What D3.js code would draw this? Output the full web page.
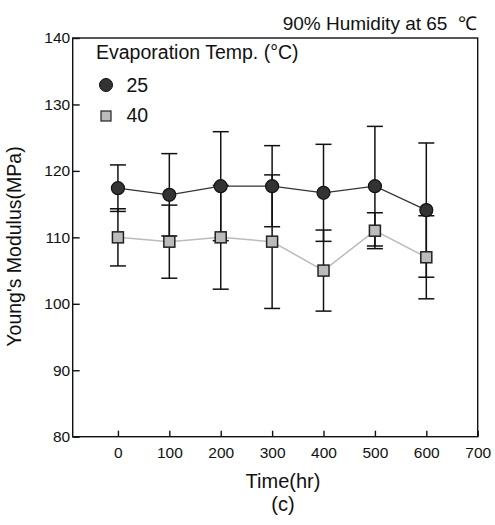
<!DOCTYPE html>
<html><head><meta charset="utf-8">
<script src="https://cdn.jsdelivr.net/npm/d3@7"></script>
<style>body{margin:0;background:#fff}svg{display:block}text{font-family:"Liberation Sans",Arial,sans-serif;fill:#111}</style>
</head><body>
<script>
const times = [0, 100, 200, 300, 400, 500, 600];
const mean25 = [117.4, 116.4, 117.7, 117.7, 116.7, 117.7, 114.1];
const err25  = [3.5, 6.2, 8.2, 6.1, 7.3, 9.0, 10.1];
const mean40 = [110.0, 109.35, 110.0, 109.35, 105.0, 111.0, 107.0];
const err40  = [4.3, 5.5, 7.8, 10.05, 6.1, 2.7, 6.25];
const xTicks = [0, 100, 200, 300, 400, 500, 600, 700];
const yTicks = [80, 90, 100, 110, 120, 130, 140];

const W = 495, H = 525;
const FONT = '"Liberation Sans",Arial,sans-serif';
const svg = d3.select("body").append("svg").attr("width", W).attr("height", H);
const x = d3.scaleLinear().domain([-88, 700]).range([72.7, 477.7]);
const y = d3.scaleLinear().domain([80, 140]).range([436.7, 38]);

// axes
const gx = svg.append("g").attr("transform", `translate(0,${y(80)})`)
  .call(d3.axisBottom(x).tickValues(xTicks).tickSizeInner(-6).tickSizeOuter(0).tickPadding(10));
const gy = svg.append("g").attr("transform", `translate(${x(-88)},0)`)
  .call(d3.axisLeft(y).tickValues(yTicks).tickSizeInner(-7).tickSizeOuter(0).tickPadding(2.5));
[gx, gy].forEach(g => {
  g.select(".domain").remove();
  g.selectAll("line").attr("stroke", "#111").attr("stroke-width", 1.4);
  g.selectAll("text").style("font-size", "15.5px").style("font-family", FONT).attr("fill", "#111");
});
// frame
svg.append("rect").attr("x", x(-88)).attr("y", y(140)).attr("width", x(700) - x(-88)).attr("height", y(80) - y(140))
  .attr("fill", "none").attr("stroke", "#111").attr("stroke-width", 1.4);

// lines
const line = d3.line().x(d => x(d[0])).y(d => y(d[1]));
svg.append("path").datum(times.map((t, i) => [t, mean25[i]])).attr("d", line)
  .attr("fill", "none").attr("stroke", "#333").attr("stroke-width", 1.2);
svg.append("path").datum(times.map((t, i) => [t, mean40[i]])).attr("d", line)
  .attr("fill", "none").attr("stroke", "#bbb").attr("stroke-width", 1.5);

// error bars
function errBars(means, errs) {
  const g = svg.append("g").attr("stroke", "#111").attr("stroke-width", 1.5);
  times.forEach((t, i) => {
    const cx = x(t), lo = y(means[i] - errs[i]), hi = y(means[i] + errs[i]);
    g.append("line").attr("x1", cx).attr("x2", cx).attr("y1", lo).attr("y2", hi);
    g.append("line").attr("x1", cx - 8).attr("x2", cx + 8).attr("y1", lo).attr("y2", lo);
    g.append("line").attr("x1", cx - 8).attr("x2", cx + 8).attr("y1", hi).attr("y2", hi);
  });
}
errBars(mean40, err40);
errBars(mean25, err25);

// markers
svg.append("g").selectAll("rect").data(times).join("rect")
  .attr("x", (t) => x(t) - 5.5).attr("y", (t, i) => y(mean40[i]) - 5.5)
  .attr("width", 11).attr("height", 11).attr("fill", "#bbb").attr("stroke", "#222").attr("stroke-width", 1.5);
svg.append("g").selectAll("circle").data(times).join("circle")
  .attr("cx", t => x(t)).attr("cy", (t, i) => y(mean25[i])).attr("r", 6.5)
  .attr("fill", "#333").attr("stroke", "#111").attr("stroke-width", 1.2);

// legend
svg.append("text").attr("x", 96).attr("y", 59).style("font-size", "19.5px").text("Evaporation Temp. (°C)");
svg.append("circle").attr("cx", 106).attr("cy", 85).attr("r", 6.5).attr("fill", "#333").attr("stroke", "#111");
svg.append("text").attr("x", 126.5).attr("y", 92).style("font-size", "19.5px").text("25");
svg.append("rect").attr("x", 101).attr("y", 111).attr("width", 10).attr("height", 10).attr("fill", "#bbb").attr("stroke", "#222").attr("stroke-width", 1.2);
svg.append("text").attr("x", 126.5).attr("y", 122).style("font-size", "19.5px").text("40");

// titles
svg.append("text").attr("x", 477).attr("y", 29.5).attr("text-anchor", "end").style("font-size", "19px").text("90% Humidity at 65 \u00a0\u2103");
svg.append("text").attr("x", 283).attr("y", 488).attr("text-anchor", "middle").style("font-size", "20px").text("Time(hr)");
svg.append("text").attr("x", 283).attr("y", 511).attr("text-anchor", "middle").style("font-size", "20px").text("(c)");
svg.append("text").attr("transform", "translate(21,246.5) rotate(-90)").attr("text-anchor", "middle").style("font-size", "19.5px").text("Young's Modulus(MPa)");
</script>
</body></html>
